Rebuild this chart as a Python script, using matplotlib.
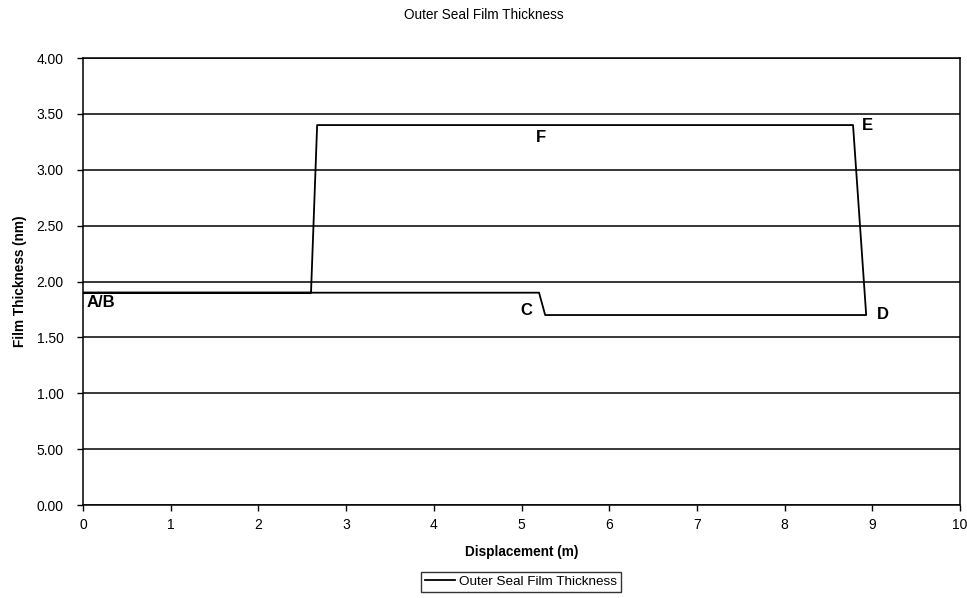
import matplotlib
matplotlib.use("Agg")
import matplotlib.pyplot as plt

plt.rcParams['font.family'] = ['Liberation Sans', 'DejaVu Sans']

# 数据：外密封膜厚度沿位移的轨迹 (A/B -> C -> D -> E -> F -> A/B)
displacement = [0, 5.2, 5.27, 8.93, 8.78, 2.67, 2.6, 0]
thickness = [1.9, 1.9, 1.7, 1.7, 3.4, 3.4, 1.9, 1.9]

# 点标签
point_labels = ['A/B', 'C', 'D', 'E', 'F']
label_x = [0.04, 4.99, 9.05, 8.88, 5.16]
label_y = [1.81, 1.745, 1.705, 3.40, 3.29]

y_ticks = [0, 0.5, 1.0, 1.5, 2.0, 2.5, 3.0, 3.5, 4.0]
y_tick_labels = ['0.00', '5.00', '1.00', '1.50', '2.00', '2.50', '3.00', '3.50', '4.00']
x_ticks = list(range(0, 11))

fig = plt.figure(figsize=(9.67, 5.98), dpi=100)
ax = fig.add_axes([0.0858, 0.1555, 0.9070, 0.7475])

ax.plot(displacement, thickness, color='black', lw=1.3, label='Outer Seal Film Thickness')

for t, x, y in zip(point_labels, label_x, label_y):
    ax.text(x, y, t, fontsize=12, fontweight='bold', ha='left', va='center')

ax.set_xlim(0, 10)
ax.set_ylim(0, 4)
ax.set_xticks(x_ticks)
ax.set_yticks(y_ticks)
ax.set_yticklabels(y_tick_labels)
ax.tick_params(direction='out', length=4, labelsize=10, colors='black', width=1)
ax.tick_params(axis='y', pad=10)
ax.tick_params(axis='x', pad=5)
ax.yaxis.grid(True, color='black', lw=1.1)
ax.set_axisbelow(True)
for s in ax.spines.values():
    s.set_linewidth(1.1)

ax.set_xlabel('Displacement (m)', fontsize=9.8, fontweight='bold', labelpad=10)
ax.set_ylabel('Film Thickness (nm)', fontsize=9.8, fontweight='bold', labelpad=7)
fig.text(0.5, 0.975, 'Outer Seal Film Thickness', ha='center', va='center', fontsize=9.8)

leg = fig.legend(loc='center', bbox_to_anchor=(0.539, 0.027), fontsize=9.7,
                 frameon=True, fancybox=False, edgecolor='black', handlelength=2.2,
                 borderpad=0.3, handletextpad=0.3)
leg.get_frame().set_linewidth(1.0)

fig.savefig('out.png', dpi=100)
